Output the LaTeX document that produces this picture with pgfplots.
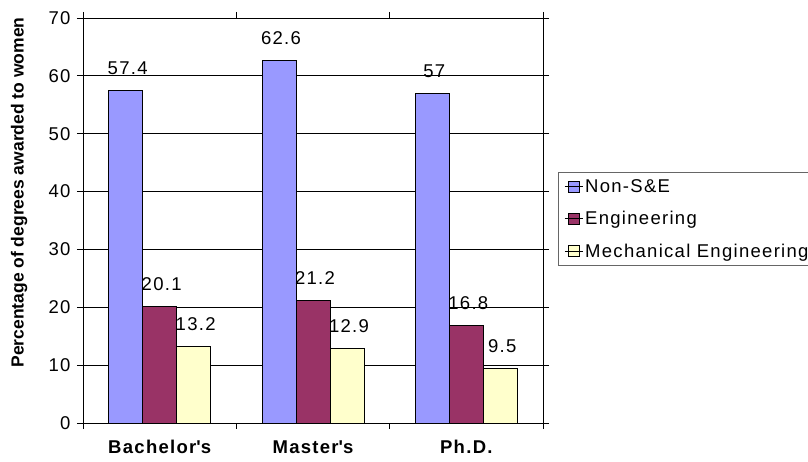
\documentclass[border=0pt]{standalone}
\usepackage{fontspec}
\setmainfont{Liberation Sans}[LetterSpace=7]
\newfontfamily\plainfont{Liberation Sans}
\usepackage{pgfplots}
\pgfplotsset{compat=1.18}
\definecolor{nonse}{HTML}{9999FF}
\definecolor{eng}{HTML}{993366}
\definecolor{mech}{HTML}{FFFFCC}
\newcommand\chartfont{\fontsize{18.5}{22}\selectfont}
\begin{document}
\begin{tikzpicture}
\path[use as bounding box] (-83pt,-39pt) rectangle (725pt,423pt);
\begin{axis}[
  scale only axis, width=460pt, height=405pt,
  ybar=0pt, bar width=34pt,
  ymin=0, ymax=70, ytick={0,10,...,70},
  xmin=-0.5, xmax=2.5,
  xtick={0,1,2}, xticklabels={Bachelor\textquotesingle s, Master\textquotesingle s, Ph.D.},
  minor xtick={-0.5,0.5,1.5,2.5},
  major x tick style={draw=none},
  tick align=outside, major tick length=6pt, minor tick length=6pt,
  tick style={black, line width=0.8pt},
  axis line style={line width=0.8pt},
  ymajorgrids, grid style={black, line width=0.8pt},
  /pgf/number format/assume math mode=true,
  tick label style={font=\chartfont},
  yticklabel style={xshift=-3pt},
  xticklabel style={font=\chartfont\bfseries, yshift=-8pt},
  ylabel={Percentage of degrees awarded to women},
  ylabel style={font=\fontsize{17.5}{20}\selectfont\plainfont\bfseries,
    at={(axis description cs:-0.139,0.569)}, anchor=center},
  nodes near coords,
  every node near coord/.append style={font=\chartfont, anchor=south, yshift=12pt, xshift=2pt, black},
  legend style={at={(rel axis cs:1.0326,0.62)}, anchor=north west,
    draw=black!60, line width=0.8pt, font=\chartfont, inner xsep=6pt, inner ysep=5pt,
    row sep=13.5pt, cells={anchor=west}},
  legend image code/.code={\draw[#1, line width=0.8pt] (0pt,-5.5pt) rectangle (11pt,5.5pt);
    \path (-4pt,0pt) -- (14pt,0pt);},
]
\addplot[fill=nonse, draw=black, line width=0.8pt] coordinates {(0,57.4) (1,62.6) (2,57)};
\addplot[fill=eng, draw=black, line width=0.8pt] coordinates {(0,20.1) (1,21.2) (2,16.8)};
\addplot[fill=mech, draw=black, line width=0.8pt] coordinates {(0,13.2) (1,12.9) (2,9.5)};
\legend{Non-S\&E, Engineering, Mechanical Engineering}
\end{axis}
\end{tikzpicture}
\end{document}
